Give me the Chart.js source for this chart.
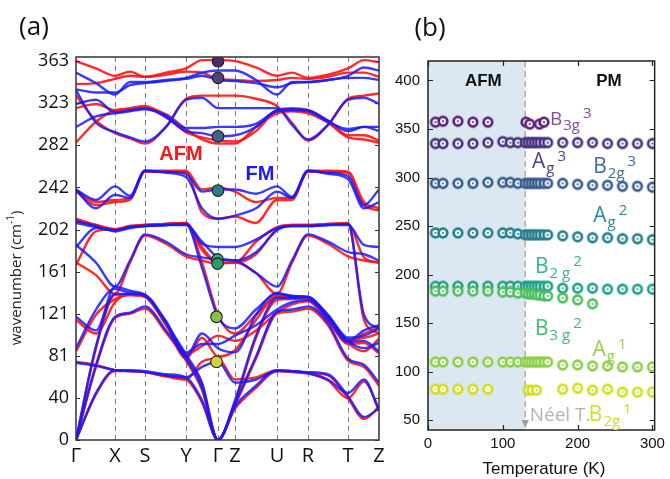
<!DOCTYPE html>
<html lang="en">
<head>
<meta charset="UTF-8">
<title>Phonon bands and Raman modes</title>
<style>
  body { margin: 0; background: #fff; }
  #wrap { position: relative; width: 670px; height: 479px; }
  #bands { position: absolute; left: 0; top: 0; }
  #raman { position: absolute; left: 390px; top: 0; }
</style>
<script src="https://cdn.jsdelivr.net/npm/chart.js@4"></script>
</head>
<body>
<div id="wrap">
  <canvas id="bands" width="390" height="479"></canvas>
  <canvas id="raman" width="280" height="479"></canvas>
</div>
<script>
// ---------- panel (a): dispersion along the k-path ----------
const kPath = [0, 39, 69, 110, 142, 159, 201, 232, 272, 303];
const kLabels = ['Γ', 'X', 'S', 'Y', 'Γ', 'Z', 'U', 'R', 'T', 'Z'];
const kSample = [0, 20, 39, 54, 69, 90, 110, 126, 142, 159, 180, 201, 216, 232, 252, 272, 288, 303];
const waveTicks = [0, 40.33, 80.67, 121, 161.33, 201.67, 242, 282.33, 322.67, 363];
const waveLabels = ['0', '40', '81', '121', '161', '202', '242', '282', '323', '363'];

// FM branches (blue), values at kSample
const fm1  = [0, 45, 67, 67, 66, 63, 60, 38, 0, 32, 52, 67, 66, 65, 63, 42, 22, 30];
const fm2  = [74, 71, 67, 66, 65, 62, 60, 70, 75, 55, 58, 66, 66, 64, 58, 45, 58, 28];
const fm3  = [0, 72, 118, 122, 128, 105, 78, 50, 0, 35, 80, 123, 125, 128, 112, 78, 72, 55];
const fm4  = [0, 90, 140, 140, 138, 112, 82, 55, 0, 38, 100, 136, 136, 137, 118, 94, 95, 85];
const fm5  = [88, 125, 145, 141, 139, 113, 80, 102, 88, 84, 120, 141, 138, 137, 119, 95, 88, 93];
const fm6  = [118, 105, 147, 143, 139, 114, 84, 92, 92, 100, 110, 125, 132, 134, 116, 95, 105, 110];
const fm7  = [210, 205, 200, 203, 205, 206, 207, 165, 118, 107, 125, 140, 138, 137, 120, 98, 100, 107];
const fm8  = [187, 170, 147, 172, 197, 190, 178, 175, 173, 172, 160, 147, 172, 197, 190, 180, 178, 172];
const fm9  = [185, 203, 201, 204, 205, 206, 207, 188, 185, 185, 192, 203, 205, 205, 206, 207, 120, 107];
const fm10 = [208, 204, 201, 204, 205, 206, 206, 190, 175, 172, 180, 201, 205, 205, 206, 206, 187, 185];
const fm11 = [240, 230, 243, 234, 258, 257, 255, 238, 240, 240, 236, 243, 233, 258, 256, 253, 225, 240];
const fm12 = [240, 222, 235, 232, 258, 256, 252, 222, 212, 215, 222, 238, 232, 258, 255, 250, 222, 228];
const fm13 = [352, 342, 331, 343, 343, 345, 347, 352, 354, 354, 345, 331, 343, 343, 345, 349, 357, 354];
const fm14 = [336, 333, 333, 340, 342, 344, 346, 349, 345, 344, 342, 338, 342, 343, 345, 347, 347, 345];
const fm15 = [335, 304, 295, 290, 286, 300, 326, 328, 318, 318, 318, 318, 302, 288, 302, 326, 328, 322];
const fm16 = [322, 326, 314, 316, 318, 309, 296, 294, 291, 292, 300, 316, 317, 316, 306, 296, 300, 300];
const fm17 = [300, 310, 313, 315, 317, 311, 299, 299, 300, 300, 303, 315, 316, 315, 305, 298, 300, 296];

// AFM branches (red)
const afm1  = [0, 44, 66, 66, 65, 61, 58, 36, 0, 30, 50, 66, 65, 64, 62, 40, 20, 32];
const afm2  = [75, 72, 67, 66, 65, 61, 58, 75, 78, 58, 60, 67, 66, 64, 57, 40, 56, 30];
const afm3  = [0, 70, 117, 121, 126, 103, 76, 48, 0, 33, 78, 121, 123, 126, 110, 76, 70, 52];
const afm4  = [0, 88, 139, 139, 137, 110, 80, 53, 0, 36, 98, 134, 135, 136, 116, 92, 93, 83];
const afm5  = [85, 120, 135, 139, 138, 111, 78, 98, 80, 86, 115, 138, 137, 136, 117, 93, 85, 97];
const afm6  = [115, 102, 132, 140, 138, 112, 82, 90, 100, 95, 105, 122, 130, 133, 114, 93, 102, 108];
const afm7  = [212, 206, 202, 204, 206, 207, 208, 170, 120, 102, 120, 137, 136, 135, 118, 96, 98, 102];
const afm8  = [170, 158, 140, 170, 196, 188, 176, 172, 169, 170, 160, 140, 170, 196, 188, 176, 172, 170];
const afm9  = [168, 200, 202, 205, 206, 207, 208, 185, 170, 170, 190, 204, 206, 206, 207, 208, 115, 102];
const afm10 = [210, 206, 202, 205, 206, 207, 207, 182, 170, 170, 178, 202, 206, 206, 207, 207, 175, 170];
const afm11 = [239, 228, 230, 232, 258, 258, 258, 240, 242, 238, 228, 232, 232, 258, 258, 257, 228, 222];
const afm12 = [238, 225, 228, 230, 257, 257, 257, 218, 212, 214, 208, 230, 230, 257, 257, 256, 225, 220];
const afm13 = [363, 356, 349, 353, 348, 352, 356, 364, 364, 363, 357, 349, 352, 347, 350, 356, 364, 362];
const afm14 = [341, 342, 346, 349, 348, 350, 353, 352, 346, 345, 344, 345, 347, 346, 348, 352, 352, 348];
const afm15 = [330, 306, 294, 289, 284, 300, 327, 330, 330, 330, 327, 320, 304, 287, 302, 327, 330, 332];
const afm16 = [318, 322, 316, 318, 320, 310, 295, 290, 287, 286, 296, 316, 318, 316, 306, 292, 292, 287];
const afm17 = [285, 305, 316, 317, 318, 312, 298, 288, 284, 284, 300, 313, 315, 313, 304, 290, 288, 285];

// Raman-active modes marked at Γ
const gammaK = [142, 142, 142, 142, 141.5, 141.5, 140.5, 140.5];
const gammaModes = [363, 347, 291, 239, 173, 169, 118, 75];
const gammaColors = ['#4e2a62', '#4f4379', '#43618d', '#2b7d8b', '#38a47a', '#2b9a6b', '#86c24a', '#d2d43a'];

// ---------- panel (b): mode frequency vs temperature ----------
const tempsMain = [10, 20, 40, 60, 80, 100, 110, 120, 130, 134, 138, 142, 146, 150, 155, 160, 180, 200, 220, 240, 260, 280, 300];
const tempsB3g3 = [10, 20, 40, 60, 80, 131, 136, 149, 155];
const tempsB2g1 = [10, 20, 40, 60, 80, 134, 139, 145, 180, 200, 220, 240, 260, 280, 300];
const b3g3 = [357, 358, 358, 357, 357, 357, 355, 355, 357];
const ag3  = [335, 335, 335, 335, 336, 337, 336, 336, 336, 336, 336, 336, 336, 336, 336, 336, 336, 336, 336, 335, 335, 335, 335];
const b2g3 = [294, 294, 294, 294, 295, 295, 295, 294, 294, 294, 294, 294, 294, 294, 294, 294, 294, 293, 292, 292, 291, 291, 290];
const ag2  = [243, 243, 243, 243, 243, 243, 243, 242, 241, 241, 241, 241, 241, 241, 241, 241, 240, 239, 238, 238, 237, 237, 236];
const b2g2 = [188, 188, 188, 188, 188, 188, 188, 188, 188, 188, 188, 188, 188, 188, 188, 188, 186, 186, 186, 185, 185, 185, 185];
const b3g2 = [183, 183, 183, 183, 183, 182, 182, 181, 181, 180, 180, 180, 179, 179, 178, 178, 176, 174, 170];
const ag1  = [110, 110, 110, 110, 110, 110, 110, 110, 110, 110, 110, 110, 110, 110, 110, 110, 107, 107, 106, 106, 105, 105, 105];
const b2g1 = [82, 82, 82, 82, 82, 81, 81, 81, 82, 83, 81, 82, 79, 79, 79];
const neelT = 130;

// mode labels: letter, subscript, superscript, position (T, cm-1)
const modeMain = ['B', 'A', 'B', 'A', 'B', 'B', 'A', 'B'];
const modeSub  = ['3g', 'g', '2g', 'g', '2 g', '3 g', 'g', '2g'];
const modeSup  = ['3', '3', '3', '2', '2', '2', '1', '1'];
const modeAtT  = [163, 139, 221, 221, 143, 143, 220, 215];
const modeAtV  = [354, 310, 305, 254, 202, 138, 116, 49];

const seriesColors = ['#5c2479', '#46327e', '#365c8d', '#277f8e', '#20a087', '#4fbe62', '#8ccf48', '#d0de22'];
const labelColors  = ['#7f4c9f', '#4a3f90', '#3f6c9c', '#2b8b93', '#3bb199', '#3fbd70', '#93d050', '#d3de1f'];

const sans = '"Liberation Sans", Arial, sans-serif';
const round = '"Open Sans", "DejaVu Sans", sans-serif';

// ---------- chart (a) ----------
function band(vals, color, order) {
    return {
        data: kSample.map((k, i) => ({ x: k, y: vals[i] })),
        borderColor: color,
        borderWidth: 2.4,
        pointRadius: 0,
        fill: false,
        cubicInterpolationMode: 'monotone',
        order: order
    };
}

const afmSet = [afm1, afm2, afm3, afm4, afm5, afm6, afm7, afm8, afm9, afm10, afm11, afm12, afm13, afm14, afm15, afm16, afm17];
const fmSet = [fm1, fm2, fm3, fm4, fm5, fm6, fm7, fm8, fm9, fm10, fm11, fm12, fm13, fm14, fm15, fm16, fm17];

const bandDatasets = [];
afmSet.forEach(v => bandDatasets.push(band(v, 'rgba(255,20,20,0.9)', 2)));
fmSet.forEach(v => bandDatasets.push(band(v, 'rgba(25,25,255,0.85)', 1)));
bandDatasets.push({
    data: gammaK.map((k, i) => ({ x: k, y: gammaModes[i] })),
    showLine: false,
    pointRadius: 5.8,
    pointBackgroundColor: gammaColors,
    pointBorderColor: '#1e1e1e',
    pointBorderWidth: 1.1,
    order: 0
});

const bandDeco = {
    id: 'bandDeco',
    beforeDatasetsDraw(chart) {
        const { ctx, chartArea: a, scales: { x } } = chart;
        ctx.save();
        ctx.strokeStyle = '#7a7a7a';
        ctx.lineWidth = 1;
        ctx.setLineDash([5, 4]);
        kPath.slice(1, -1).forEach(k => {
            const px = Math.round(x.getPixelForValue(k)) + 0.5;
            ctx.beginPath();
            ctx.moveTo(px, a.top);
            ctx.lineTo(px, a.bottom);
            ctx.stroke();
        });
        ctx.restore();
    },
    afterDraw(chart) {
        const { ctx, chartArea: a, scales: { x, y } } = chart;
        ctx.save();
        // frame + inward ticks
        ctx.strokeStyle = '#333';
        ctx.lineWidth = 1.5;
        ctx.strokeRect(a.left, a.top, a.right - a.left, a.bottom - a.top);
        ctx.lineWidth = 1;
        waveTicks.forEach(v => {
            const py = Math.round(y.getPixelForValue(v)) + 0.5;
            ctx.beginPath();
            ctx.moveTo(a.left, py); ctx.lineTo(a.left + 4, py);
            ctx.moveTo(a.right, py); ctx.lineTo(a.right - 4, py);
            ctx.stroke();
        });
        // AFM / FM labels
        ctx.font = 'bold 20px ' + sans;
        ctx.textAlign = 'center';
        ctx.textBaseline = 'middle';
        ctx.fillStyle = '#ff1414';
        ctx.fillText('AFM', x.getPixelForValue(105), y.getPixelForValue(274));
        ctx.fillStyle = '#1919ff';
        ctx.fillText('FM', x.getPixelForValue(184), y.getPixelForValue(254));
        // panel letter
        ctx.fillStyle = '#111';
        ctx.font = '26px ' + round;
        ctx.fillText('(a)', 34, 28);
        // y title, rotated, with superscript
        ctx.translate(17, 278);
        ctx.rotate(-Math.PI / 2);
        ctx.textAlign = 'left';
        ctx.textBaseline = 'middle';
        ctx.fillStyle = '#222';
        const t1 = 'wavenumber (cm', t3 = ')';
        ctx.font = '10px ' + round;
        const w2 = ctx.measureText('-1').width;
        ctx.font = '15px ' + round;
        const w1 = ctx.measureText(t1).width, w3 = ctx.measureText(t3).width;
        let sx = -(w1 + w2 + w3) / 2;
        ctx.fillText(t1, sx, 0);
        sx += w1;
        ctx.font = '10px ' + round;
        ctx.fillText('-1', sx, -6);
        sx += w2;
        ctx.font = '15px ' + round;
        ctx.fillText(t3, sx, 0);
        ctx.restore();
    }
};

new Chart(document.getElementById('bands'), {
    type: 'line',
    data: { datasets: bandDatasets },
    options: {
        responsive: false,
        animation: false,
        devicePixelRatio: 1,
        layout: { padding: { left: 0, right: 11, top: 57, bottom: 0 } },
        plugins: { legend: { display: false }, tooltip: { enabled: false } },
        scales: {
            x: {
                type: 'linear',
                min: 0,
                max: 303,
                afterBuildTicks: s => { s.ticks = kPath.map(v => ({ value: v })); },
                afterFit: s => { s.height = 39; },
                grid: { display: false, drawTicks: false },
                border: { display: false },
                ticks: {
                    autoSkip: false,
                    maxRotation: 0,
                    padding: 4,
                    color: '#111',
                    font: { family: round, size: 20 },
                    callback: (v, i) => kLabels[i]
                }
            },
            y: {
                type: 'linear',
                min: 0,
                max: 367,
                afterBuildTicks: s => { s.ticks = waveTicks.map(v => ({ value: v })); },
                afterFit: s => { s.width = 76; },
                grid: { display: false, drawTicks: false },
                border: { display: false },
                ticks: {
                    padding: 7,
                    color: '#111',
                    font: { family: round, size: 18 },
                    callback: (v, i) => waveLabels[i]
                }
            }
        }
    },
    plugins: [bandDeco]
});

// ---------- chart (b) ----------
function ringMarker(color) {
    const c = document.createElement('canvas');
    c.width = 14; c.height = 14;
    const g = c.getContext('2d');
    g.beginPath();
    g.arc(7, 7, 4.3, 0, Math.PI * 2);
    g.fillStyle = 'rgba(255,255,255,0.9)';
    g.fill();
    g.lineWidth = 2.7;
    g.strokeStyle = color;
    g.stroke();
    g.beginPath();
    g.arc(7, 7, 1.1, 0, Math.PI * 2);
    g.fillStyle = color;
    g.fill();
    return c;
}

function modeSeries(temps, vals, color) {
    const pts = [];
    vals.forEach((v, i) => pts.push({ x: temps[i], y: v }));
    return { data: pts, pointStyle: ringMarker(color), pointRadius: 6, showLine: false };
}

const ramanDatasets = [
    modeSeries(tempsB3g3, b3g3, seriesColors[0]),
    modeSeries(tempsMain, ag3, seriesColors[1]),
    modeSeries(tempsMain, b2g3, seriesColors[2]),
    modeSeries(tempsMain, ag2, seriesColors[3]),
    modeSeries(tempsMain, b3g2, seriesColors[5]),
    modeSeries(tempsMain, b2g2, seriesColors[4]),
    modeSeries(tempsMain, ag1, seriesColors[6]),
    modeSeries(tempsB2g1, b2g1, seriesColors[7])
];

const ramanDeco = {
    id: 'ramanDeco',
    beforeDatasetsDraw(chart) {
        const { ctx, chartArea: a, scales: { x } } = chart;
        const xn = x.getPixelForValue(neelT);
        ctx.save();
        ctx.fillStyle = '#dbe7f1';
        ctx.fillRect(a.left, a.top, xn - a.left, a.bottom - a.top);
        ctx.strokeStyle = '#a9a9a9';
        ctx.lineWidth = 1.4;
        ctx.setLineDash([6, 4]);
        ctx.beginPath();
        ctx.moveTo(xn, a.top);
        ctx.lineTo(xn, a.bottom - 9);
        ctx.stroke();
        ctx.setLineDash([]);
        ctx.fillStyle = '#9a9a9a';
        ctx.beginPath();
        ctx.moveTo(xn - 3.5, a.bottom - 10);
        ctx.lineTo(xn + 3.5, a.bottom - 10);
        ctx.lineTo(xn, a.bottom - 2);
        ctx.closePath();
        ctx.fill();
        ctx.restore();
    },
    afterDraw(chart) {
        const { ctx, chartArea: a, scales: { x, y } } = chart;
        ctx.save();
        ctx.strokeStyle = '#222';
        ctx.lineWidth = 1.5;
        ctx.strokeRect(a.left, a.top, a.right - a.left, a.bottom - a.top);
        ctx.lineWidth = 1.2;
        y.ticks.forEach(t => {
            const py = Math.round(y.getPixelForValue(t.value)) + 0.5;
            ctx.beginPath();
            ctx.moveTo(a.left, py); ctx.lineTo(a.left + 5, py);
            ctx.moveTo(a.right, py); ctx.lineTo(a.right - 5, py);
            ctx.stroke();
        });
        x.ticks.forEach(t => {
            const px = Math.round(x.getPixelForValue(t.value)) + 0.5;
            ctx.beginPath();
            ctx.moveTo(px, a.bottom); ctx.lineTo(px, a.bottom - 5);
            ctx.moveTo(px, a.top); ctx.lineTo(px, a.top + 5);
            ctx.stroke();
        });
        // region labels
        ctx.fillStyle = '#111';
        ctx.font = 'bold 17px ' + sans;
        ctx.textAlign = 'center';
        ctx.textBaseline = 'middle';
        ctx.fillText('AFM', x.getPixelForValue(74), y.getPixelForValue(399));
        ctx.fillText('PM', x.getPixelForValue(242), y.getPixelForValue(399));
        // axis title and panel letter
        ctx.font = '17px ' + sans;
        ctx.fillText('Temperature (K)', x.getPixelForValue(155), 469);
        ctx.font = '26px ' + round;
        ctx.fillText('(b)', 40, 29);
        // Néel temperature
        ctx.textAlign = 'left';
        ctx.textBaseline = 'alphabetic';
        ctx.font = '19px ' + round;
        ctx.fillStyle = '#b4b4b4';
        ctx.fillText('Néel T.', x.getPixelForValue(136), y.getPixelForValue(49));
        // mode labels
        modeMain.forEach((m, i) => {
            let px = x.getPixelForValue(modeAtT[i]);
            const py = y.getPixelForValue(modeAtV[i]);
            const big = i === 0 ? 19 : 21;
            ctx.fillStyle = labelColors[i];
            ctx.font = big + 'px ' + round;
            ctx.fillText(m, px, py);
            px += ctx.measureText(m).width + 1;
            ctx.font = '15px ' + round;
            ctx.fillText(modeSub[i], px, py + 5);
            px += ctx.measureText(modeSub[i]).width + 3;
            ctx.fillText(modeSup[i], px, py - 7);
        });
        ctx.restore();
    }
};

new Chart(document.getElementById('raman'), {
    type: 'scatter',
    data: { datasets: ramanDatasets },
    options: {
        responsive: false,
        animation: false,
        devicePixelRatio: 1,
        layout: { padding: { left: 0, right: 9, top: 61, bottom: 0 } },
        plugins: { legend: { display: false }, tooltip: { enabled: false } },
        scales: {
            x: {
                type: 'linear',
                min: 0,
                max: 303,
                afterBuildTicks: s => { s.ticks = [0, 100, 200, 300].map(v => ({ value: v })); },
                afterFit: s => { s.height = 49; },
                grid: { display: false, drawTicks: false },
                border: { display: false },
                ticks: { padding: 5, color: '#111', font: { family: sans, size: 15 } }
            },
            y: {
                type: 'linear',
                min: 40,
                max: 420,
                afterBuildTicks: s => { s.ticks = [50, 100, 150, 200, 250, 300, 350, 400].map(v => ({ value: v })); },
                afterFit: s => { s.width = 38; },
                grid: { display: false, drawTicks: false },
                border: { display: false },
                ticks: { padding: 8, color: '#111', font: { family: sans, size: 15 } }
            }
        }
    },
    plugins: [ramanDeco]
});
</script>
</body>
</html>
